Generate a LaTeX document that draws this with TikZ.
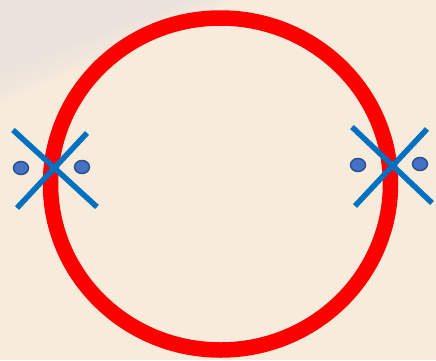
\documentclass[tikz,border=0pt]{standalone}
\usetikzlibrary{shapes.geometric}
\definecolor{bg}{HTML}{F7EBDC}
\definecolor{shadow}{HTML}{E6DFDE}
\definecolor{ringred}{HTML}{FF0000}
\definecolor{crossblue}{HTML}{0070C0}
\definecolor{dotfill}{HTML}{4472C4}
\definecolor{dotline}{HTML}{2F528F}
\tikzset{
  ring/.style={draw=ringred, line width=15.5pt},
  crossline/.style={draw=crossblue, line width=5.5pt},
  dot/.style={ellipse, minimum width=15pt, minimum height=13pt, inner sep=0pt, fill=dotfill, draw=dotline, line width=1.5pt},
}
\begin{document}
\begin{tikzpicture}[x=1pt,y=-1pt]
\useasboundingbox (0,0) rectangle (436,360);
\fill[bg] (0,0) rectangle (436,360);
% soft grey shadow in the upper left
\foreach \d in {0,6,...,36}{
  \fill[shadow, opacity=0.12] (0,0) -- (190+\d*1.2,0) -- (0,70+\d*0.9) -- cycle;
}
% ring
\draw[ring] (220.5,184) ellipse [x radius=170, y radius=166];
% left cross
\coordinate (la1) at (13,130); \coordinate (la2) at (97,207);
\coordinate (lb1) at (87,133); \coordinate (lb2) at (17,208);
\draw[crossline] (la1) -- (la2);
\draw[crossline] (lb1) -- (lb2);
\node[dot] (ld1) at (21,168) {};
\node[dot] (ld2) at (82,167) {};
% right cross
\coordinate (ra1) at (352,127); \coordinate (ra2) at (432,203);
\coordinate (rb1) at (427,129); \coordinate (rb2) at (355,206);
\draw[crossline] (ra1) -- (ra2);
\draw[crossline] (rb1) -- (rb2);
\node[dot] (rd1) at (358,165) {};
\node[dot] (rd2) at (420,164) {};
\end{tikzpicture}
\end{document}
